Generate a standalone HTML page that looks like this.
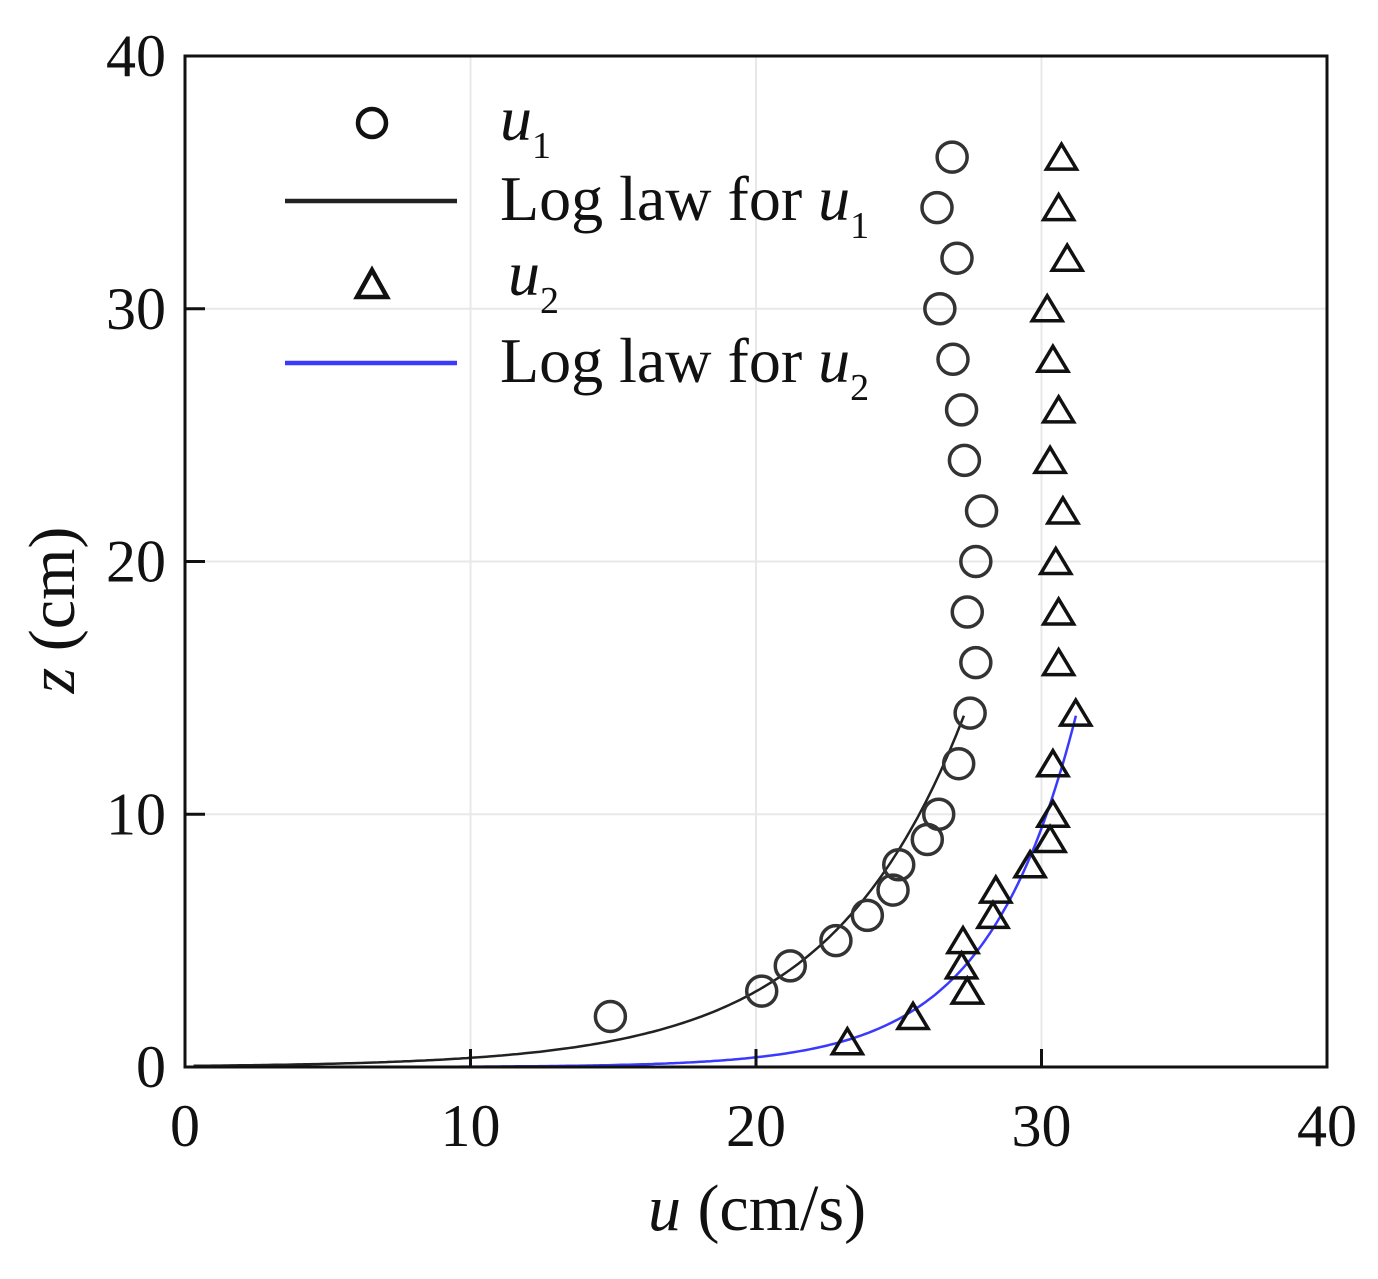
<!DOCTYPE html>
<html><head><meta charset="utf-8"><style>
html,body{margin:0;padding:0;background:#fff;}
svg text{font-family:"Liberation Serif",serif;fill:#111;}
</style></head><body>
<svg id="chart" width="1378" height="1274" viewBox="0 0 1378 1274" xmlns="http://www.w3.org/2000/svg">
<g id="grid"></g>
<g id="curves"></g>
<g id="marks"></g>
<rect x="185" y="56" width="1142" height="1011" fill="none" stroke="#111" stroke-width="3"/>
<g id="ticks"></g>
<text x="757" y="1230" font-size="66" text-anchor="middle"><tspan font-style="italic">u</tspan> (cm/s)</text>
<text transform="translate(74,610) rotate(-90)" font-size="66" text-anchor="middle"><tspan font-style="italic">z</tspan> (cm)</text>
<g>
<circle cx="372" cy="123" r="14" fill="none" stroke="#111" stroke-width="4.5"/>
<text x="500" y="140" font-size="64"><tspan font-style="italic">u</tspan><tspan font-size="38" dy="18">1</tspan></text>
<line x1="285" y1="201" x2="457" y2="201" stroke="#222" stroke-width="4.5"/>
<text x="500" y="220" font-size="64">Log law for <tspan font-style="italic">u</tspan><tspan font-size="38" dy="18">1</tspan></text>
<polygon points="372,270 357,297 387,297" fill="none" stroke="#111" stroke-width="4.5"/>
<text x="508" y="295" font-size="64"><tspan font-style="italic">u</tspan><tspan font-size="38" dy="18">2</tspan></text>
<line x1="285" y1="363" x2="457" y2="363" stroke="#3a3aff" stroke-width="4.5"/>
<text x="500" y="382" font-size="64">Log law for <tspan font-style="italic">u</tspan><tspan font-size="38" dy="18">2</tspan></text>
</g>
</svg>
<script>
const xTicks=[0,10,20,30,40];
const yTicks=[0,10,20,30,40];
const u1=[26.87,26.34,27.04,26.44,26.9,27.2,27.3,27.9,27.7,27.4,27.7,27.5,27.1,26.4,26.0,25.0,24.8,23.9,22.8,21.2,20.2,14.9];
const z1=[36,34,32,30,28,26,24,22,20,18,16,14,12,10,9,8,7,6,5,4,3,2];
const u2=[30.7,30.6,30.9,30.2,30.4,30.6,30.3,30.75,30.5,30.6,30.6,31.2,30.4,30.4,30.3,29.6,28.4,28.3,27.25,27.2,27.4,25.5,23.2];
const z2=[36,34,32,30,28,26,24,22,20,18,16,14,12,10,9,8,7,6,5,4,3,2,1];
// log law fit parameters: u = a*ln(z/z0), plotted from uStart to zEnd
const fit1=[4.74,0.044,0.3,13.9];
const fit2=[3.12,0.00063,7.3,13.9];
const X=u=>185+u*28.55, Y=z=>1067-z*25.275;
const NS='http://www.w3.org/2000/svg';
function mk(p,t,a){const e=document.createElementNS(NS,t);for(const k in a)e.setAttribute(k,a[k]);document.getElementById(p).appendChild(e);return e;}
xTicks.forEach(v=>{
 if(v>0&&v<40){const g=mk('grid','line',{x1:X(v),x2:X(v),y1:56,y2:1067,stroke:'#e8e8e8','stroke-width':2});
 
 
 const t=mk('ticks','line',{x1:X(v),x2:X(v),y1:1067,y2:1049,stroke:'#111','stroke-width':3});
 
 }
 const l=mk('ticks','text',{x:X(v),y:1146,'font-size':60,'text-anchor':'middle'});l.textContent=v;
 
 
});
yTicks.forEach(v=>{
 if(v>0&&v<40){const g=mk('grid','line',{x1:185,x2:1327,y1:Y(v),y2:Y(v),stroke:'#e8e8e8','stroke-width':2});
 
 
 const t=mk('ticks','line',{x1:185,x2:205,y1:Y(v),y2:Y(v),stroke:'#111','stroke-width':3});
 
 }
 const l=mk('ticks','text',{x:166,y:Y(v)+20,'font-size':60,'text-anchor':'end'});l.textContent=v;
 
 
});
function curve(f,color,name){
 const [a,z0,us,ze]=f;const ue=a*Math.log(ze/z0);let d='';
 for(let i=0;i<=200;i++){const u=us+(ue-us)*i/200;const z=z0*Math.exp(u/a);d+=(i?'L':'M')+X(u).toFixed(1)+','+Y(z).toFixed(1);}
 const p=mk('curves','path',{d:d,fill:'none',stroke:color,'stroke-width':2.5});
 
 
}
curve(fit1,'#222','loglaw-u1-curve');
curve(fit2,'#3a3aff','loglaw-u2-curve');
u1.forEach((u,i)=>{const c=mk('marks','circle',{cx:X(u),cy:Y(z1[i]),r:15,fill:'none',stroke:'#333','stroke-width':3.5});
 
 });
u2.forEach((u,i)=>{const x=X(u),y=Y(z2[i]);const p=mk('marks','polygon',{points:`${x},${y-13} ${x-15},${y+12} ${x+15},${y+12}`,fill:'none',stroke:'#111','stroke-width':3.5});
 
 });
</script>
</body></html>
